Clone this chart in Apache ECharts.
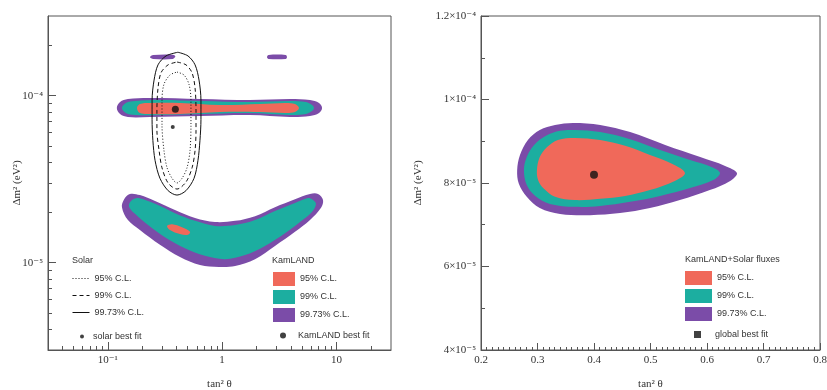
<!DOCTYPE html>
<html>
<head>
<meta charset="utf-8">
<title>KamLAND and solar oscillation contours</title>
<script src="https://cdn.jsdelivr.net/npm/echarts@6/dist/echarts.min.js"></script>
<style>
  html, body { margin: 0; padding: 0; background: #fff; }
  #chart { width: 827px; height: 390px; }
</style>
</head>
<body>
<div id="chart"></div>
<script>
// points are [tan^2 theta, delta m^2 (eV^2)]

// left panel: solar contours (closed outlines)
const solar95 = [[0.403,1.385e-4],[0.464,1.33e-4],[0.513,1.17e-4],[0.534,9.4e-5],[0.534,6.7e-5],[0.524,4.7e-5],[0.493,3.7e-5],[0.446,3.2e-5],[0.403,3.0e-5],[0.365,3.2e-5],[0.330,3.7e-5],[0.310,4.7e-5],[0.298,6.7e-5],[0.298,9.4e-5],[0.310,1.17e-4],[0.350,1.33e-4],[0.403,1.385e-4]];
const solar99 = [[0.403,1.59e-4],[0.483,1.53e-4],[0.546,1.37e-4],[0.580,1.11e-4],[0.591,8.2e-5],[0.591,6.2e-5],[0.580,4.7e-5],[0.546,3.7e-5],[0.483,3.04e-5],[0.403,2.76e-5],[0.337,3.0e-5],[0.298,3.7e-5],[0.281,4.7e-5],[0.269,6.2e-5],[0.269,8.2e-5],[0.275,1.11e-4],[0.292,1.37e-4],[0.337,1.53e-4],[0.403,1.59e-4]];
const solar9973 = [[0.411,1.82e-4],[0.503,1.73e-4],[0.580,1.53e-4],[0.628,1.24e-4],[0.653,9.4e-5],[0.653,7.2e-5],[0.640,5.4e-5],[0.615,4.1e-5],[0.568,3.2e-5],[0.483,2.7e-5],[0.403,2.54e-5],[0.337,2.7e-5],[0.286,3.2e-5],[0.259,4.1e-5],[0.248,5.4e-5],[0.244,7.2e-5],[0.244,9.4e-5],[0.254,1.24e-4],[0.275,1.53e-4],[0.323,1.73e-4],[0.411,1.82e-4]];
const solarBest = [[0.37, 6.5e-5]];

// left panel: KamLAND regions
const kl9973Upper = [[0.120,8.44e-5],[0.128,9.16e-5],[0.150,9.55e-5],[0.234,9.68e-5],[0.640,9.55e-5],[1.75,9.42e-5],[3.92,9.55e-5],[5.87,9.42e-5],[7.04,9.04e-5],[7.48,8.44e-5],[7.04,7.87e-5],[5.87,7.55e-5],[3.92,7.45e-5],[1.75,7.66e-5],[0.640,7.55e-5],[0.234,7.45e-5],[0.150,7.45e-5],[0.128,7.76e-5]];
const kl99Upper = [[0.133,8.44e-5],[0.144,9.04e-5],[0.173,9.29e-5],[0.286,9.42e-5],[0.640,9.29e-5],[1.75,9.16e-5],[3.92,9.29e-5],[5.41,9.16e-5],[6.11,8.79e-5],[6.36,8.44e-5],[6.11,8.09e-5],[5.41,7.76e-5],[3.92,7.66e-5],[1.75,7.87e-5],[0.640,7.76e-5],[0.286,7.66e-5],[0.173,7.66e-5],[0.144,7.87e-5]];
const kl95Upper = [[0.180,8.44e-5],[0.191,8.91e-5],[0.234,9.04e-5],[0.428,9.04e-5],[0.957,8.79e-5],[2.14,8.91e-5],[3.55,9.04e-5],[4.34,8.91e-5],[4.70,8.44e-5],[4.34,7.98e-5],[3.55,7.87e-5],[2.14,7.98e-5],[0.957,7.98e-5],[0.428,7.76e-5],[0.234,7.76e-5],[0.191,7.87e-5]];
const kl9973TopA = [[0.234,1.70e-4],[0.25,1.75e-4],[0.37,1.76e-4],[0.39,1.72e-4],[0.37,1.66e-4],[0.25,1.66e-4]];
const kl9973TopB = [[2.47,1.70e-4],[2.55,1.75e-4],[3.6,1.75e-4],[3.69,1.70e-4],[3.6,1.66e-4],[2.55,1.66e-4]];
const kl9973Lower = [[0.133,2.15e-5],[0.139,2.40e-5],[0.156,2.58e-5],[0.191,2.54e-5],[0.259,2.34e-5],[0.387,2.07e-5],[0.580,1.85e-5],[0.866,1.75e-5],[1.30,1.78e-5],[1.94,1.90e-5],[2.90,2.15e-5],[4.34,2.40e-5],[5.87,2.58e-5],[6.90,2.58e-5],[7.63,2.37e-5],[7.33,2.13e-5],[5.87,1.80e-5],[4.34,1.53e-5],[2.90,1.26e-5],[1.94,1.05e-5],[1.30,9.55e-6],[0.939,9.42e-6],[0.640,9.68e-6],[0.428,1.08e-5],[0.286,1.28e-5],[0.191,1.57e-5],[0.150,1.80e-5]];
const kl99Lower = [[0.153,2.18e-5],[0.163,2.37e-5],[0.184,2.44e-5],[0.259,2.25e-5],[0.387,1.98e-5],[0.580,1.78e-5],[0.866,1.66e-5],[1.30,1.68e-5],[1.94,1.80e-5],[2.90,2.04e-5],[4.34,2.28e-5],[5.64,2.44e-5],[6.11,2.40e-5],[6.62,2.25e-5],[6.11,2.01e-5],[4.80,1.75e-5],[3.55,1.50e-5],[2.37,1.26e-5],[1.59,1.11e-5],[1.06,1.05e-5],[0.708,1.10e-5],[0.473,1.22e-5],[0.316,1.42e-5],[0.225,1.68e-5],[0.173,1.96e-5]];
const kl95Lower = [[0.330,1.66e-5],[0.365,1.70e-5],[0.446,1.63e-5],[0.524,1.53e-5],[0.503,1.47e-5],[0.428,1.485e-5],[0.350,1.57e-5]];
const klBest = [[0.39, 8.3e-5]];

// right panel: KamLAND + solar fluxes
const gl9973 = [[0.264,8.31e-5],[0.269,8.67e-5],[0.283,9.03e-5],[0.304,9.27e-5],[0.331,9.39e-5],[0.363,9.44e-5],[0.411,9.39e-5],[0.464,9.22e-5],[0.526,8.91e-5],[0.588,8.62e-5],[0.632,8.41e-5],[0.653,8.24e-5],[0.641,8.05e-5],[0.605,7.83e-5],[0.552,7.59e-5],[0.499,7.40e-5],[0.446,7.28e-5],[0.393,7.23e-5],[0.340,7.26e-5],[0.304,7.40e-5],[0.281,7.67e-5],[0.267,7.98e-5]];
const gl99 = [[0.276,8.31e-5],[0.281,8.62e-5],[0.294,8.91e-5],[0.315,9.13e-5],[0.340,9.25e-5],[0.366,9.27e-5],[0.411,9.22e-5],[0.464,9.05e-5],[0.517,8.79e-5],[0.570,8.55e-5],[0.609,8.38e-5],[0.623,8.24e-5],[0.611,8.07e-5],[0.570,7.88e-5],[0.517,7.69e-5],[0.464,7.55e-5],[0.411,7.45e-5],[0.366,7.43e-5],[0.322,7.50e-5],[0.296,7.69e-5],[0.281,7.95e-5]];
const gl95 = [[0.299,8.31e-5],[0.304,8.62e-5],[0.317,8.86e-5],[0.336,9.03e-5],[0.366,9.08e-5],[0.411,9.03e-5],[0.455,8.89e-5],[0.499,8.67e-5],[0.538,8.46e-5],[0.561,8.24e-5],[0.543,8.05e-5],[0.499,7.83e-5],[0.455,7.69e-5],[0.411,7.62e-5],[0.366,7.59e-5],[0.331,7.67e-5],[0.310,7.88e-5],[0.301,8.07e-5]];
const glBest = [[0.40, 8.2e-5]];

// ticks and labels
const xLeftMajor = [0.1, 1, 10];
const xLeftLabels = ['10⁻¹', '1', '10'];
const xLeftMinor = [0.04,0.05,0.06,0.07,0.08,0.09,0.2,0.3,0.4,0.5,0.6,0.7,0.8,0.9,2,3,4,5,6,7,8,9,20];
const yLeftMajor = [1e-5, 1e-4];
const yLeftLabels = ['10⁻⁵', '10⁻⁴'];
const yLeftMinor = [4e-6,5e-6,6e-6,7e-6,8e-6,9e-6,2e-5,3e-5,4e-5,5e-5,6e-5,7e-5,8e-5,9e-5,2e-4];
const yRightTicks = [4e-5, 6e-5, 8e-5, 1e-4, 1.2e-4];
const yRightLabels = ['4×10⁻⁵', '6×10⁻⁵', '8×10⁻⁵', '1×10⁻⁴', '1.2×10⁻⁴'];

const legendNames = {
  s95: '95% C.L.', s99: '99% C.L.', s9973: '99.73% C.L.', sbest: 'solar best fit',
  k95: '95% C.L.', k99: '99% C.L.', k9973: '99.73% C.L.', kbest: 'KamLAND best fit',
  g95: '95% C.L.', g99: '99% C.L.', g9973: '99.73% C.L.', gbest: 'global best fit'
};

const RED = '#f0695a';
const TEAL = '#1caea0';
const PURPLE = '#7b4ca8';
const FRAME = '#555';
const SERIF = '"Liberation Serif", "DejaVu Serif", serif';
const SANS = '"Liberation Sans", Arial, sans-serif';

function pickLabel(ticks, labels) {
  return v => {
    const i = ticks.findIndex(t => Math.abs(t - v) <= Math.abs(t) * 1e-6);
    return i < 0 ? '' : labels[i];
  };
}

function region(name, pts, color, axis) {
  return {
    type: 'custom', name: name, xAxisIndex: axis, yAxisIndex: axis,
    data: pts, itemStyle: { color: color }, silent: true,
    renderItem: (params, api) => params.dataIndex !== 0 ? null : {
      type: 'polygon',
      shape: { points: pts.map(p => api.coord(p)), smooth: 0.35 },
      style: { fill: color }
    }
  };
}

function contourLine(name, pts, type) {
  return {
    type: 'line', name: name, xAxisIndex: 0, yAxisIndex: 0, data: pts,
    showSymbol: false, symbol: 'circle', smooth: 0.3, silent: true, z: 5,
    itemStyle: { color: '#111' },
    lineStyle: { color: '#111', width: 1, type: type }
  };
}

function bestFit(name, pts, size, axis) {
  return {
    type: 'scatter', name: name, xAxisIndex: axis, yAxisIndex: axis, data: pts,
    symbol: 'circle', symbolSize: size, itemStyle: { color: '#111' }, z: 6, silent: true
  };
}

const legendText = { fontSize: 9, color: '#333', fontFamily: SANS };
const fmt = name => legendNames[name];
const tickText = { fontSize: 11, color: '#333', fontFamily: SERIF };
const nameText = { fontSize: 11, color: '#333', fontFamily: SERIF };
const header = { fontSize: 9, fontWeight: 'normal', color: '#333', fontFamily: SANS };

const chart = echarts.init(document.getElementById('chart'), null, { renderer: 'canvas' });

chart.setOption({
  animation: false,
  backgroundColor: '#fff',
  title: [
    { text: 'Solar', left: 72, top: 256, padding: 0, textStyle: header },
    { text: 'KamLAND', left: 272, top: 256, padding: 0, textStyle: header },
    { text: 'KamLAND+Solar fluxes', left: 685, top: 255, padding: 0, textStyle: header }
  ],
  legend: [
    { left: 72, top: 274, orient: 'vertical', padding: 0, itemWidth: 17, itemHeight: 10, itemGap: 8,
      selectedMode: false, formatter: fmt, textStyle: legendText, lineStyle: { width: 1 },
      itemStyle: { opacity: 0 }, data: ['s95', 's99', 's9973'] },
    { left: 80, top: 332, orient: 'vertical', padding: 0, itemWidth: 4, itemHeight: 4,
      selectedMode: false, formatter: fmt, textStyle: { ...legendText, padding: [0, 0, 0, 4] },
      data: [{ name: 'sbest', icon: 'circle' }] },
    { left: 273, top: 272, orient: 'vertical', padding: 0, itemWidth: 22, itemHeight: 14, itemGap: 4,
      selectedMode: false, formatter: fmt, textStyle: legendText,
      data: [{ name: 'k95', icon: 'rect' }, { name: 'k99', icon: 'rect' }, { name: 'k9973', icon: 'rect' }] },
    { left: 280, top: 331, orient: 'vertical', padding: 0, itemWidth: 6, itemHeight: 6,
      selectedMode: false, formatter: fmt, textStyle: { ...legendText, padding: [0, 0, 0, 7] },
      data: [{ name: 'kbest', icon: 'circle' }] },
    { left: 685, top: 271, orient: 'vertical', padding: 0, itemWidth: 27, itemHeight: 14, itemGap: 4,
      selectedMode: false, formatter: fmt, textStyle: legendText,
      data: [{ name: 'g95', icon: 'rect' }, { name: 'g99', icon: 'rect' }, { name: 'g9973', icon: 'rect' }] },
    { left: 694, top: 330, orient: 'vertical', padding: 0, itemWidth: 7, itemHeight: 7,
      selectedMode: false, formatter: fmt, textStyle: { ...legendText, padding: [0, 0, 0, 9] },
      data: [{ name: 'gbest', icon: 'rect' }] }
  ],
  grid: [
    { left: 48, top: 16, width: 343, height: 334, outerBoundsMode: 'none', show: true, borderColor: FRAME, borderWidth: 1, backgroundColor: 'transparent' },
    { left: 48, top: 16, width: 343, height: 334, outerBoundsMode: 'none', show: false },
    { left: 481, top: 16, width: 339, height: 334, outerBoundsMode: 'none', show: true, borderColor: FRAME, borderWidth: 1, backgroundColor: 'transparent' }
  ],
  xAxis: [
    { gridIndex: 0, type: 'log', logBase: 10, min: 0.03, max: 30,
      axisLine: { lineStyle: { color: FRAME } },
      axisTick: { inside: true, length: 8, customValues: xLeftMajor, lineStyle: { color: FRAME } },
      axisLabel: { customValues: xLeftMajor, formatter: pickLabel(xLeftMajor, xLeftLabels), margin: 5, ...tickText },
      splitLine: { show: false },
      name: 'tan² θ', nameLocation: 'middle', nameGap: 29, nameTextStyle: nameText },
    { gridIndex: 1, type: 'log', logBase: 10, min: 0.03, max: 30,
      axisLine: { show: false },
      axisTick: { inside: true, length: 4, customValues: xLeftMinor, lineStyle: { color: FRAME } },
      axisLabel: { show: false }, splitLine: { show: false } },
    { gridIndex: 2, type: 'value', min: 0.2, max: 0.8, interval: 0.1,
      axisLine: { lineStyle: { color: FRAME } },
      axisTick: { inside: true, length: 7, lineStyle: { color: FRAME } },
      minorTick: { show: true, splitNumber: 10, length: 3, lineStyle: { color: FRAME } },
      axisLabel: { formatter: v => v.toFixed(1), margin: 5, ...tickText },
      splitLine: { show: false },
      name: 'tan² θ', nameLocation: 'middle', nameGap: 29, nameTextStyle: nameText }
  ],
  yAxis: [
    { gridIndex: 0, type: 'log', logBase: 10, min: 3e-6, max: 3e-4,
      axisLine: { lineStyle: { color: FRAME } },
      axisTick: { inside: true, length: 8, customValues: yLeftMajor, lineStyle: { color: FRAME } },
      axisLabel: { customValues: yLeftMajor, formatter: pickLabel(yLeftMajor, yLeftLabels), margin: 5, ...tickText },
      splitLine: { show: false },
      name: 'Δm² (eV²)', nameLocation: 'middle', nameGap: 25, nameMoveOverlap: false, nameTextStyle: nameText },
    { gridIndex: 1, type: 'log', logBase: 10, min: 3e-6, max: 3e-4,
      axisLine: { show: false },
      axisTick: { inside: true, length: 4, customValues: yLeftMinor, lineStyle: { color: FRAME } },
      axisLabel: { show: false }, splitLine: { show: false } },
    { gridIndex: 2, type: 'value', min: 4e-5, max: 1.2e-4, interval: 2e-5,
      axisLine: { lineStyle: { color: FRAME } },
      axisTick: { inside: true, length: 8, lineStyle: { color: FRAME } },
      minorTick: { show: true, splitNumber: 2, length: 4, lineStyle: { color: FRAME } },
      axisLabel: { formatter: pickLabel(yRightTicks, yRightLabels), margin: 5, ...tickText },
      splitLine: { show: false },
      name: 'Δm² (eV²)', nameLocation: 'middle', nameGap: 57, nameTextStyle: nameText }
  ],
  series: [
    region('k9973', kl9973Upper, PURPLE, 0),
    region('k99', kl99Upper, TEAL, 0),
    region('k95', kl95Upper, RED, 0),
    region('k9973', kl9973TopA, PURPLE, 0),
    region('k9973', kl9973TopB, PURPLE, 0),
    region('k9973', kl9973Lower, PURPLE, 0),
    region('k99', kl99Lower, TEAL, 0),
    region('k95', kl95Lower, RED, 0),
    contourLine('s95', solar95, [1, 2]),
    contourLine('s99', solar99, [4, 3]),
    contourLine('s9973', solar9973, 'solid'),
    bestFit('sbest', solarBest, 4, 0),
    bestFit('kbest', klBest, 7, 0),
    region('g9973', gl9973, PURPLE, 2),
    region('g99', gl99, TEAL, 2),
    region('g95', gl95, RED, 2),
    bestFit('gbest', glBest, 8, 2)
  ]
});
</script>
</body>
</html>
